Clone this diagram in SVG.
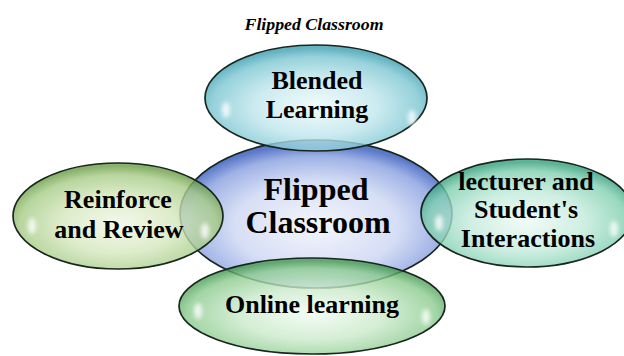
<svg xmlns="http://www.w3.org/2000/svg" width="624" height="356" viewBox="0 0 624 356">
<defs>
<radialGradient id="gTop" cx="50%" cy="58%" r="55%">
<stop offset="0" stop-color="#eefafb"/><stop offset="0.5" stop-color="#bfe6ec"/><stop offset="0.85" stop-color="#7cc6d2"/><stop offset="1" stop-color="#3e9fb2"/>
</radialGradient>
<radialGradient id="gCenter" cx="50%" cy="58%" r="55%">
<stop offset="0" stop-color="#f4f6fd"/><stop offset="0.55" stop-color="#d6def5"/><stop offset="0.85" stop-color="#9fb2e6"/><stop offset="1" stop-color="#5b79c9"/>
</radialGradient>
<radialGradient id="gLeft" cx="50%" cy="58%" r="55%">
<stop offset="0" stop-color="#f1f7e6"/><stop offset="0.5" stop-color="#d4e7bd"/><stop offset="0.85" stop-color="#a6cb86"/><stop offset="1" stop-color="#6c9e47"/>
</radialGradient>
<radialGradient id="gRight" cx="50%" cy="58%" r="55%">
<stop offset="0" stop-color="#eefaf5"/><stop offset="0.5" stop-color="#c2eadb"/><stop offset="0.85" stop-color="#80cfb0"/><stop offset="1" stop-color="#34a07c"/>
</radialGradient>
<radialGradient id="gBottom" cx="50%" cy="58%" r="55%">
<stop offset="0" stop-color="#f2fbf2"/><stop offset="0.5" stop-color="#c9e9c9"/><stop offset="0.85" stop-color="#8ccb8f"/><stop offset="1" stop-color="#43994e"/>
</radialGradient>
<filter id="blur" x="-100%" y="-100%" width="300%" height="300%"><feGaussianBlur stdDeviation="2"/></filter>
</defs>
<style>
.shape{stroke:#18261e;stroke-width:1.7}
.sat{fill-opacity:0.8}
.spot{fill:#ffffff;opacity:0.8;filter:url(#blur)}
.lbl{font-family:"Liberation Serif","Times New Roman",serif;font-weight:bold;font-size:26px;fill:#000;text-anchor:middle}
.big{font-size:32px}
.title{font-family:"Liberation Serif","Times New Roman",serif;font-weight:bold;font-style:italic;font-size:16px;fill:#000;text-anchor:middle}
</style>
<rect width="624" height="356" fill="#ffffff"/>
<text class="title" x="314" y="30" textLength="139" lengthAdjust="spacingAndGlyphs">Flipped Classroom</text>
<g id="connectors"/>
<g id="node-center">
<ellipse class="shape" cx="316" cy="214" rx="136" ry="74" fill="url(#gCenter)"/>
</g>
<g id="node-top">
<ellipse class="shape sat" cx="316" cy="98" rx="111" ry="53" fill="url(#gTop)"/>
<ellipse class="spot" cx="226" cy="110" rx="4" ry="8"/>
<ellipse class="spot" cx="412" cy="118" rx="4" ry="8"/>
</g>
<g id="node-left">
<ellipse class="shape sat" cx="118" cy="216" rx="105" ry="53" fill="url(#gLeft)"/>
<ellipse class="spot" cx="32" cy="226" rx="4" ry="8"/>
<ellipse class="spot" cx="205" cy="231" rx="4" ry="8"/>
</g>
<g id="node-right">
<ellipse class="shape sat" cx="527" cy="213" rx="106" ry="54" fill="url(#gRight)"/>
<ellipse class="spot" cx="439" cy="223" rx="4" ry="8"/>
<ellipse class="spot" cx="614" cy="229" rx="4" ry="8"/>
</g>
<g id="node-bottom">
<ellipse class="shape sat" cx="312" cy="306" rx="133" ry="48" fill="url(#gBottom)"/>
<ellipse class="spot" cx="198" cy="311" rx="4" ry="8"/>
<ellipse class="spot" cx="426" cy="317" rx="4" ry="8"/>
</g>
<g id="labels">
<text class="lbl big" x="316" y="200">Flipped</text>
<text class="lbl big" x="318" y="233">Classroom</text>
<text class="lbl" x="317" y="89">Blended</text>
<text class="lbl" x="317" y="118">Learning</text>
<text class="lbl" x="118" y="208">Reinforce</text>
<text class="lbl" x="119" y="238">and Review</text>
<text class="lbl" x="526" y="190">lecturer and</text>
<text class="lbl" x="526" y="218">Student's</text>
<text class="lbl" x="528" y="247">Interactions</text>
<text class="lbl" x="312" y="313">Online learning</text>
</g>
</svg>
